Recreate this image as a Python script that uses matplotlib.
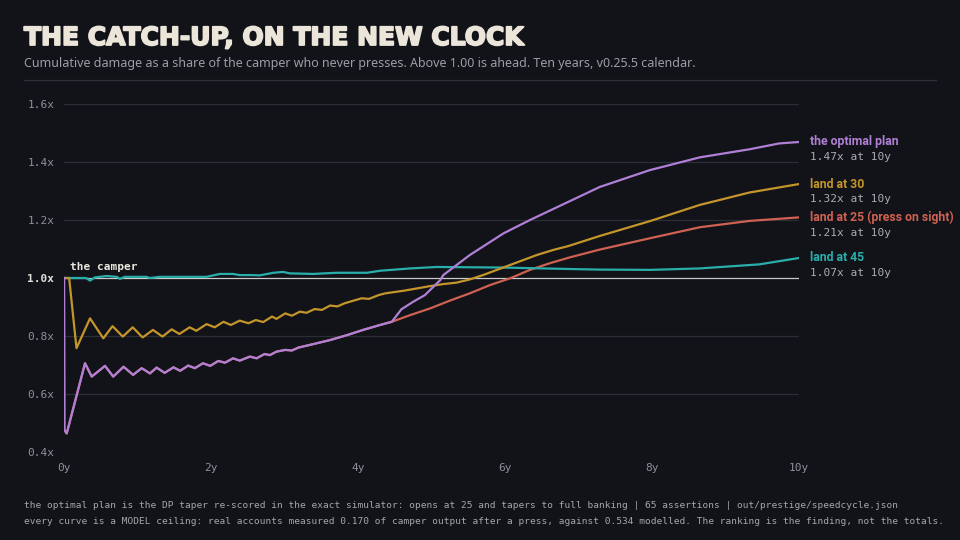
import matplotlib
matplotlib.use("Agg")
import matplotlib.pyplot as plt
import matplotlib.patheffects as pe
import numpy as np

## -------- DATA --------------------------------------------- ##

# path shared by "the optimal plan" and "land at 25" until they split near 4.5y
shared_t = [0, 0.005, 0.037, 0.286, 0.377, 0.558, 0.67, 0.81, 0.94, 1.057, 1.17, 1.26,
            1.37, 1.49, 1.58, 1.69, 1.78, 1.89, 1.99, 2.10, 2.19, 2.30, 2.39, 2.53,
            2.62, 2.73, 2.80, 2.89, 3.01, 3.10, 3.19, 3.39, 3.62, 3.85, 4.07, 4.30, 4.46]
shared_v = [1.0, 0.476, 0.464, 0.706, 0.660, 0.697, 0.660, 0.694, 0.666, 0.689, 0.671, 0.691,
            0.673, 0.692, 0.680, 0.698, 0.689, 0.706, 0.697, 0.714, 0.708, 0.723, 0.715, 0.729,
            0.723, 0.738, 0.734, 0.746, 0.752, 0.750, 0.760, 0.772, 0.786, 0.803, 0.821, 0.838, 0.849]

optimal_t = [4.59, 4.75, 4.91, 5.12, 5.16, 5.52, 5.98, 6.34, 7.29, 7.97, 8.65, 9.33, 9.73, 10.0]
optimal_v = [0.892, 0.918, 0.941, 0.993, 1.010, 1.079, 1.154, 1.200, 1.314, 1.372, 1.416, 1.444, 1.464, 1.469]

land25_t = [4.71, 4.98, 5.25, 5.52, 5.80, 6.07, 6.34, 6.61, 6.88, 7.29, 7.97, 8.65, 9.33, 10.0]
land25_v = [0.872, 0.895, 0.922, 0.947, 0.976, 0.999, 1.028, 1.051, 1.071, 1.098, 1.137, 1.175, 1.197, 1.209]

land30_t = [0, 0.07, 0.17, 0.354, 0.535, 0.66, 0.80, 0.935, 1.07, 1.21, 1.34, 1.465,
            1.57, 1.71, 1.80, 1.94, 2.05, 2.17, 2.27, 2.39, 2.51, 2.61, 2.71, 2.83,
            2.89, 3.01, 3.10, 3.21, 3.30, 3.41, 3.51, 3.62, 3.72, 3.82, 3.94, 4.05,
            4.15, 4.28, 4.37, 4.48, 4.62, 4.80, 4.98, 5.16, 5.34, 5.52, 5.70, 5.89,
            6.07, 6.25, 6.43, 6.66, 6.86, 7.29, 7.97, 8.65, 9.33, 10.0]
land30_v = [1.0, 1.0, 0.758, 0.861, 0.792, 0.834, 0.798, 0.830, 0.795, 0.821, 0.798, 0.823,
            0.807, 0.830, 0.818, 0.841, 0.830, 0.849, 0.838, 0.853, 0.844, 0.855, 0.848, 0.867,
            0.859, 0.878, 0.870, 0.884, 0.880, 0.893, 0.890, 0.905, 0.902, 0.913, 0.922, 0.930,
            0.928, 0.941, 0.947, 0.951, 0.956, 0.964, 0.972, 0.979, 0.984, 0.995, 1.010, 1.028,
            1.045, 1.062, 1.079, 1.097, 1.110, 1.145, 1.196, 1.252, 1.295, 1.324]

land45_t = [0, 0.30, 0.354, 0.42, 0.58, 0.72, 0.76, 0.83, 1.12, 1.17, 1.30, 1.94,
            2.12, 2.30, 2.39, 2.57, 2.66, 2.85, 2.98, 3.07, 3.39, 3.71, 4.12, 4.30,
            4.71, 5.07, 5.52, 5.98, 6.88, 7.29, 7.97, 8.65, 9.46, 10.0]
land45_v = [1.0, 1.0, 0.991, 1.002, 1.007, 1.004, 0.997, 1.004, 1.004, 1.000, 1.004, 1.004,
            1.014, 1.014, 1.010, 1.010, 1.009, 1.018, 1.021, 1.016, 1.014, 1.018, 1.018, 1.025,
            1.033, 1.038, 1.037, 1.036, 1.031, 1.029, 1.028, 1.033, 1.047, 1.069]

y_ticks = [0.4, 0.6, 0.8, 1.0, 1.2, 1.4, 1.6]
x_ticks = [0, 2, 4, 6, 8, 10]

## -------- STYLE -------------------- ##

BG = '#111318'
GRID = '#2a2e35'
MUTED = '#8d9199'
CREAM = '#ece6da'
PURPLE = '#b07fd6'
GOLD = '#c4952a'
RED = '#cf6152'
TEAL = '#2aaeab'
MONO = 'DejaVu Sans Mono'
SANS = 'Noto Sans'
LABEL = 'Roboto'

W, H = 960, 540

def fx(px):
    return px / W

def fy(py):
    return 1 - py / H

fig = plt.figure(figsize=(W / 100, H / 100), dpi=100, facecolor=BG)
ax = fig.add_axes([fx(64), fy(452), fx(799) - fx(64), fy(104) - fy(452)])
ax.set_facecolor(BG)
for s in ax.spines.values():
    s.set_visible(False)

ax.set_xlim(0, 10)
ax.set_ylim(0.4, 1.6)

# gridlines, the 1.00 line brighter
for yv in y_ticks:
    if yv == 1.0:
        ax.axhline(yv, color='#c9c9c9', lw=0.9, zorder=2)
    else:
        ax.axhline(yv, color=GRID, lw=0.9, zorder=1)

# curves
red_t = shared_t + land25_t
red_v = shared_v + land25_v
opt_t = shared_t + optimal_t
opt_v = shared_v + optimal_v

ax.plot(red_t, red_v, color=RED, lw=1.6, zorder=3, solid_joinstyle='round')
ax.plot(land45_t, land45_v, color=TEAL, lw=1.6, zorder=4, solid_joinstyle='round')
ax.plot(land30_t, land30_v, color=GOLD, lw=1.6, zorder=5, solid_joinstyle='round')
ax.plot(opt_t, opt_v, color=PURPLE, lw=1.6, zorder=6, solid_joinstyle='round')

# ticks
ax.set_yticks(y_ticks)
ax.set_yticklabels(['%.1fx' % v for v in y_ticks])
ax.set_xticks(x_ticks)
ax.set_xticklabels(['%dy' % v for v in x_ticks])
ax.tick_params(length=0, colors=MUTED, labelsize=8)
ax.tick_params(axis='y', pad=7)
ax.tick_params(axis='x', pad=8)
for lab in ax.get_yticklabels() + ax.get_xticklabels():
    lab.set_fontfamily(MONO)
for lab, v in zip(ax.get_yticklabels(), y_ticks):
    if v == 1.0:
        lab.set_color('#e3e0da')
        lab.set_fontweight('bold')

ax.annotate('the camper', xy=(0, 1.0), xytext=(4.5, 8), textcoords='offset points',
            family=MONO, fontsize=8, fontweight='bold', color='#ece8e0',
            va='center', ha='left')

# end labels
ends = [
    ('the optimal plan', opt_v[-1], PURPLE),
    ('land at 30', land30_v[-1], GOLD),
    ('land at 25 (press on sight)', red_v[-1], RED),
    ('land at 45', land45_v[-1], TEAL),
]
for name, v, c in ends:
    ax.annotate(name, xy=(10, v), xytext=(8, 0), textcoords='offset points',
                color=c, fontsize=8.8, fontweight='bold', family=LABEL,
                va='center', ha='left', annotation_clip=False)
    ax.annotate('%.2fx at 10y' % v, xy=(10, v), xytext=(8, -11), textcoords='offset points',
                color='#a9adb3', fontsize=8, family=MONO,
                va='center', ha='left', annotation_clip=False)

# header
title = fig.text(fx(24), fy(38), 'THE CATCH-UP, ON THE NEW CLOCK', color=CREAM, fontsize=18,
                 fontweight='bold', family='DejaVu Sans', va='center', ha='left')
title.set_path_effects([pe.withStroke(linewidth=1.3, foreground=CREAM)])
fig.text(fx(24), fy(63), 'Cumulative damage as a share of the camper who never presses. '
         'Above 1.00 is ahead. Ten years, v0.25.5 calendar.',
         color='#9a9ea5', fontsize=9, family=SANS, va='center', ha='left')
fig.add_artist(plt.Line2D([fx(24), fx(936)], [fy(80), fy(80)], color='#2e323a', lw=0.9))

# footer
fig.text(fx(24), fy(505), 'the optimal plan is the DP taper re-scored in the exact simulator: '
         'opens at 25 and tapers to full banking | 65 assertions | out/prestige/speedcycle.json',
         color='#a3a6ab', fontsize=6.8, family=MONO, va='center', ha='left')
fig.text(fx(24), fy(521), 'every curve is a MODEL ceiling: real accounts measured 0.170 of camper '
         'output after a press, against 0.534 modelled. The ranking is the finding, not the totals.',
         color='#a3a6ab', fontsize=6.8, family=MONO, va='center', ha='left')

fig.savefig('out.png', dpi=100, facecolor=BG)
